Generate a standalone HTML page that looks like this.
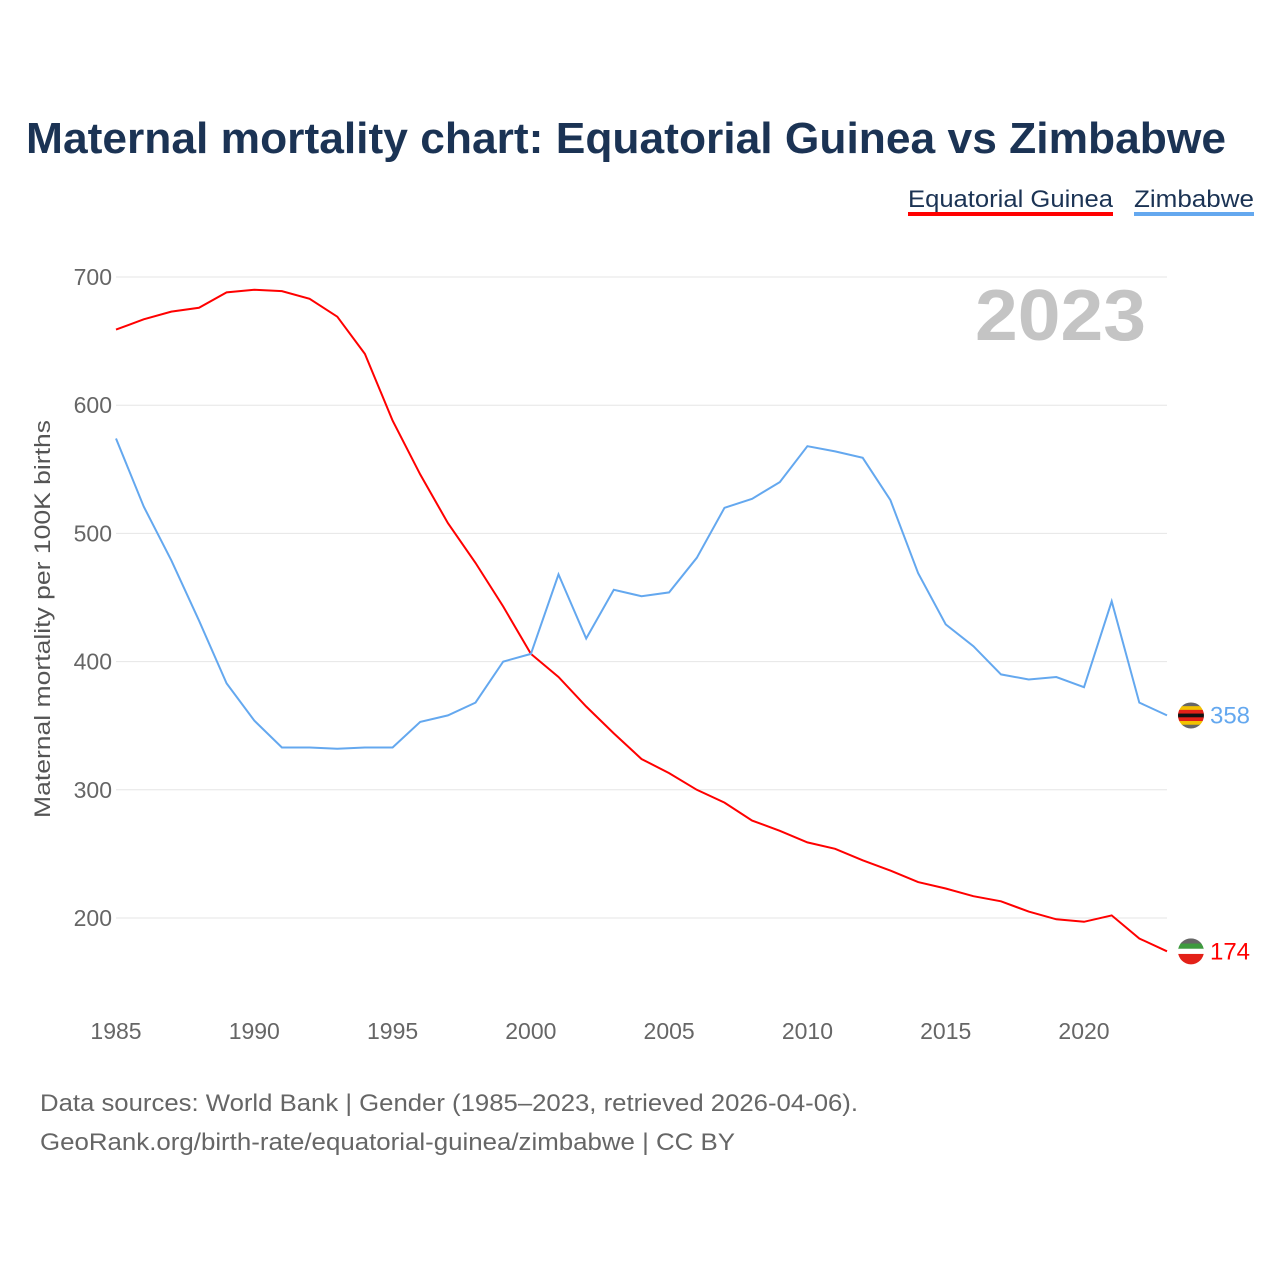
<!DOCTYPE html>
<html><head><meta charset="utf-8"><style>
html,body{margin:0;padding:0;background:#fff;}
body{width:1280px;height:1280px;overflow:hidden;font-family:"Liberation Sans",sans-serif;}
</style></head><body>
<svg id="chart" width="1280" height="1280" xmlns="http://www.w3.org/2000/svg">
<text x="26" y="153" font-size="44" font-weight="bold" fill="#1b3354" textLength="1200" lengthAdjust="spacingAndGlyphs">Maternal mortality chart: Equatorial Guinea vs Zimbabwe</text>
<g>
<text x="908" y="207" font-size="24" fill="#1b3354" textLength="205" lengthAdjust="spacingAndGlyphs">Equatorial Guinea</text>
<rect x="908" y="212" width="205" height="4" fill="#ff0000"/>
<text x="1134" y="207" font-size="24" fill="#1b3354" textLength="120" lengthAdjust="spacingAndGlyphs">Zimbabwe</text>
<rect x="1134" y="212" width="120" height="4" fill="#64a8ef"/>
</g>
<text x="975" y="340" font-size="72" font-weight="bold" fill="#c4c4c4" textLength="171" lengthAdjust="spacingAndGlyphs">2023</text>
<text transform="translate(50,420) rotate(-90)" x="-398" font-size="22" fill="#555" textLength="398" lengthAdjust="spacingAndGlyphs">Maternal mortality per 100K births</text>
<g id="grid"></g><g id="xt"></g><g id="lines"></g>
<text x="40" y="1111" font-size="24" fill="#666" textLength="818" lengthAdjust="spacingAndGlyphs">Data sources: World Bank | Gender (1985–2023, retrieved 2026-04-06).</text>
<text x="40" y="1150" font-size="24" fill="#666" textLength="695" lengthAdjust="spacingAndGlyphs">GeoRank.org/birth-rate/equatorial-guinea/zimbabwe | CC BY</text>
</svg>
<script>
const years=[1985,1986,1987,1988,1989,1990,1991,1992,1993,1994,1995,1996,1997,1998,1999,2000,2001,2002,2003,2004,2005,2006,2007,2008,2009,2010,2011,2012,2013,2014,2015,2016,2017,2018,2019,2020,2021,2022,2023];
const eqGuinea=[659,667,673,676,688,690,689,683,669,640,588,546,508,477,443,406,388,365,344,324,313,300,290,276,268,259,254,245,237,228,223,217,213,205,199,197,202,184,174];
const zimbabwe=[574,521,479,432,383,354,333,333,332,333,333,353,358,368,400,406,468,418,456,451,454,481,520,527,540,568,564,559,526,469,429,412,390,386,388,380,447,368,358];
const yTicks=[200,300,400,500,600,700];
const xTicks=[1985,1990,1995,2000,2005,2010,2015,2020];
const NS="http://www.w3.org/2000/svg";
const X=y=>116+(y-1985)*(1084-116)/35;
const Y=v=>918-(v-200)*(918-277)/500;
function mk(t,a,p){const e=document.createElementNS(NS,t);for(const k in a)e.setAttribute(k,a[k]);p.appendChild(e);return e;}
const grid=document.getElementById('grid');
yTicks.forEach(v=>{
 const l=mk('line',{x1:116,x2:1167,y1:Y(v),y2:Y(v),stroke:'#e6e6e6','stroke-width':1},grid);
 
 
 const t=mk('text',{x:112,y:Y(v)+8,'font-size':23,fill:'#666','text-anchor':'end'},grid);
 t.textContent=v;
 
 
});
const xt=document.getElementById('xt');
xTicks.forEach(v=>{
 const t=mk('text',{x:X(v),y:1039,'font-size':23,fill:'#666','text-anchor':'middle'},xt);
 t.textContent=v;
 
 
});
const lines=document.getElementById('lines');
function series(vals,color,name,flag){
 const p=mk('path',{d:vals.map((v,i)=>(i?'L':'M')+X(years[i]).toFixed(1)+','+Y(v).toFixed(1)).join(''),fill:'none',stroke:color,'stroke-width':2},lines);
 
 
 const last=vals[vals.length-1], lx=X(years[years.length-1])+24, ly=Y(last);
 const g=mk('g',{},lines);
 
 
 const cp=mk('clipPath',{id:'c'+name},g);mk('circle',{cx:lx,cy:ly,r:13},cp);
 const gg=mk('g',{'clip-path':'url(#c'+name+')'},g);
 flag.forEach((c,i)=>mk('rect',{x:lx-13,y:ly-13+i*26/flag.length,width:26,height:26/flag.length+0.5,fill:c},gg));
 const t=mk('text',{x:lx+19,y:ly+8,'font-size':24,fill:color},lines);
 t.textContent=last;
 
 
}
series(eqGuinea,'#ff0000','equatorial-guinea',['#666','#3e9a3e','#fff','#e32118','#e32118']);
series(zimbabwe,'#64a8ef','zimbabwe',['#666','#f2c200','#e32118','#111','#e32118','#f2c200','#666']);
</script>
</body></html>
